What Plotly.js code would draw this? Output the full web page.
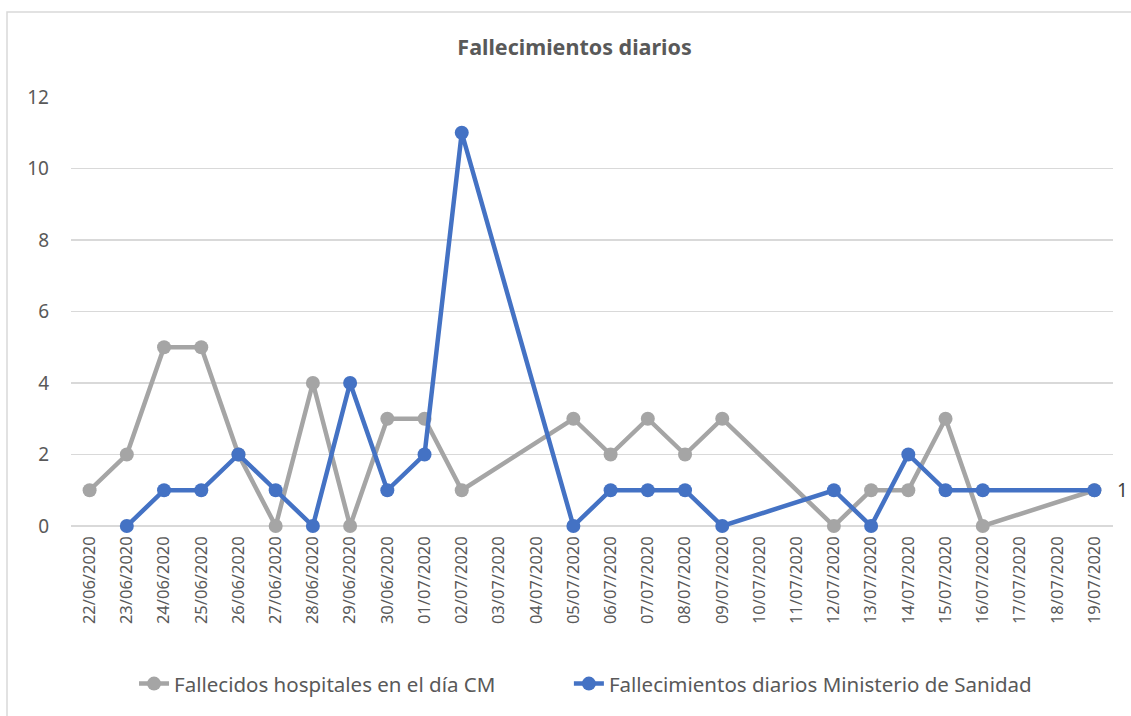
<!DOCTYPE html>
<html>
<head>
<meta charset="utf-8">
<script src="https://cdn.plot.ly/plotly-3.0.1.min.js"></script>
<style>
html,body{margin:0;padding:0;background:#fff;}
#chart{width:1131px;height:716px;}
</style>
</head>
<body>
<div id="chart"></div>
<script>
const categories = ["22/06/2020","23/06/2020","24/06/2020","25/06/2020","26/06/2020","27/06/2020","28/06/2020","29/06/2020","30/06/2020","01/07/2020","02/07/2020","03/07/2020","04/07/2020","05/07/2020","06/07/2020","07/07/2020","08/07/2020","09/07/2020","10/07/2020","11/07/2020","12/07/2020","13/07/2020","14/07/2020","15/07/2020","16/07/2020","17/07/2020","18/07/2020","19/07/2020"];
const hospitalesCM = [1,2,5,5,2,0,4,0,3,3,1,null,null,3,2,3,2,3,null,null,0,1,1,3,0,null,null,1];
const ministerio = [null,0,1,1,2,1,0,4,1,2,11,null,null,0,1,1,1,0,null,null,1,0,2,1,1,null,null,1];
const seriesNames = ["Fallecidos hospitales en el día CM","Fallecimientos diarios Ministerio de Sanidad"];
const chartTitle = "Fallecimientos diarios";
const yTicks = [0,2,4,6,8,10,12];

const FONT = "Noto Sans, Open Sans, sans-serif";
const TXT = "#595959";
const lastIdx = ministerio.length-1;

const traces = [
  {
    type:"scatter", mode:"lines+markers", name:seriesNames[0], legend:"legend",
    x:categories, y:hospitalesCM, connectgaps:true, cliponaxis:false,
    line:{color:"#a5a5a5", width:4.5},
    marker:{color:"#a5a5a5", size:14}
  },
  {
    type:"scatter", mode:"lines+markers", name:seriesNames[1], legend:"legend2",
    x:categories, y:ministerio, connectgaps:true, cliponaxis:false,
    line:{color:"#4472c4", width:4.5},
    marker:{color:"#4472c4", size:14}
  }
];

const legendCommon = {orientation:"h", xref:"container", xanchor:"left", y:0.045, yref:"container", yanchor:"middle",
                      font:{family:FONT, size:20.5, color:TXT}, bgcolor:"rgba(0,0,0,0)"};

const layout = {
  width:1131, height:716,
  paper_bgcolor:"#fff", plot_bgcolor:"#fff",
  margin:{l:71, r:18, t:97, b:190},
  font:{family:FONT, color:TXT},
  title:{text:"<b>"+chartTitle+"</b>", font:{family:FONT, size:21.5, color:TXT},
         xref:"container", x:0.508, xanchor:"center", yref:"container", y:0.933, yanchor:"middle"},
  xaxis:{type:"category", categoryorder:"array", categoryarray:categories,
         range:[-0.5, categories.length-0.5], tickangle:-90,
         tickfont:{family:FONT, size:16.5, color:TXT},
         showgrid:false, showline:false, zeroline:false, ticks:"", ticklabelstandoff:6,
         fixedrange:true},
  yaxis:{range:[0,12], tickvals:yTicks, ticktext:yTicks.map(String),
         tickfont:{family:FONT, size:19, color:TXT},
         showgrid:true, gridcolor:"#d9d9d9", gridwidth:1.5,
         zeroline:true, zerolinecolor:"#d9d9d9", zerolinewidth:1.5,
         showline:false, ticks:"", ticklabelstandoff:21, fixedrange:true},
  showlegend:true,
  legend:Object.assign({}, legendCommon, {x:0.1185}),
  legend2:Object.assign({}, legendCommon, {x:0.503}),
  annotations:[
    {x:categories[lastIdx], y:ministerio[lastIdx], xref:"x", yref:"y", text:String(ministerio[lastIdx]),
     showarrow:false, xanchor:"center", xshift:28, font:{family:FONT, size:19, color:"#404040"}}
  ],
  shapes:[
    {type:"rect", xref:"paper", yref:"paper",
     x0:(7-71)/(1131-71-18), x1:(1135-71)/(1131-71-18),
     y0:-(720-526)/(526-97), y1:(526-12)/(526-97),
     line:{color:"#d9d9d9", width:1.5}, fillcolor:"rgba(0,0,0,0)", layer:"below"}
  ]
};

Plotly.newPlot("chart", traces, layout, {displayModeBar:false, staticPlot:true});
</script>
</body>
</html>
